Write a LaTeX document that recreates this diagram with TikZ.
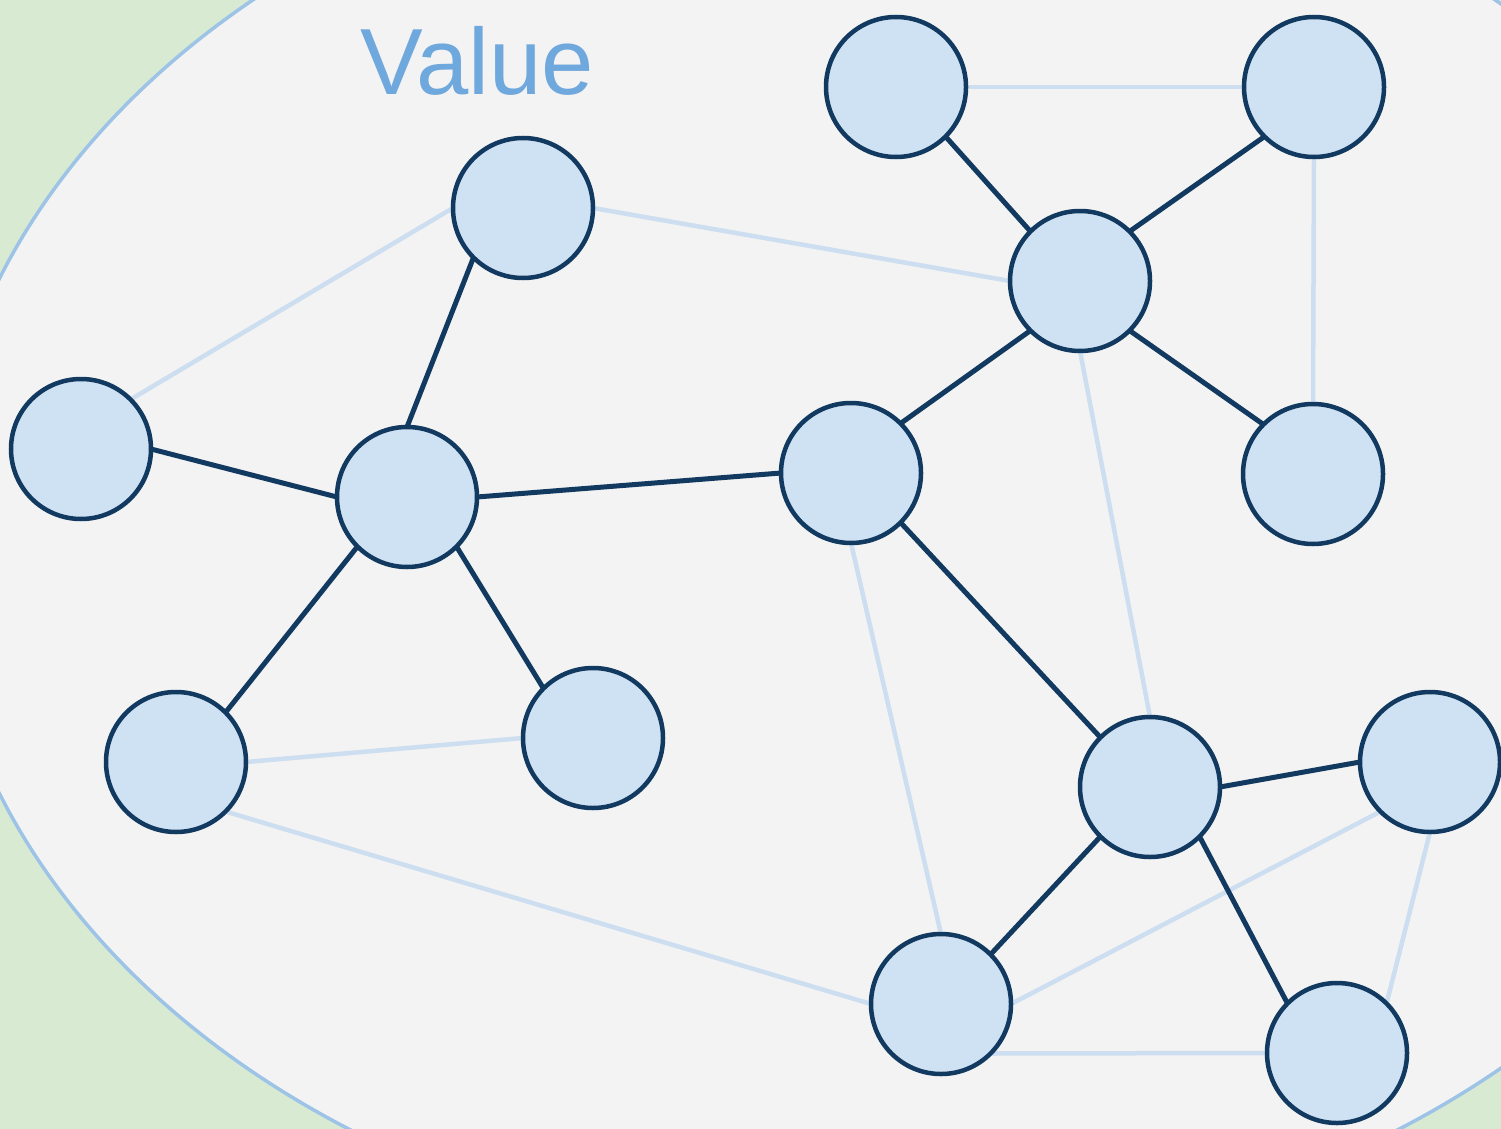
\documentclass[tikz,border=0pt]{standalone}
\usepackage{fontspec}
\setmainfont{Liberation Sans}
\usetikzlibrary{backgrounds}
\definecolor{bggreen}{HTML}{D9EAD3}
\definecolor{ellfill}{HTML}{F3F3F3}
\definecolor{ellline}{HTML}{9DC3E6}
\definecolor{vfill}{HTML}{CFE2F3}
\definecolor{vline}{HTML}{123A60}
\definecolor{lightedge}{HTML}{CCDEF0}
\definecolor{valcol}{HTML}{6FA8DC}
\begin{document}
\begin{tikzpicture}[x=1pt,y=-1pt,
  vtx/.style={circle,minimum size=140pt,inner sep=0pt,outer sep=0pt,fill=vfill,draw=vline,line width=4.5pt},
  darkedge/.style={draw=vline,line width=5pt},
  softedge/.style={draw=lightedge,line width=4.5pt},
  valtext/.style={text=valcol,font=\fontsize{94}{100}\selectfont,inner sep=0pt}]
\useasboundingbox (0,0) rectangle (1501,1129);
\node[valtext,anchor=base] (val) at (477,95) {Value};
\node[vtx] (n1) at (523,208) {};
\node[vtx] (n2) at (81,449) {};
\node[vtx] (n3) at (407,497) {};
\node[vtx] (n4) at (176,762) {};
\node[vtx] (n5) at (593,738) {};
\node[vtx] (n6) at (896,87) {};
\node[vtx] (n7) at (1314,87) {};
\node[vtx] (n8) at (1080,281) {};
\node[vtx] (n9) at (851,473) {};
\node[vtx] (n10) at (1313,474) {};
\node[vtx] (n11) at (1150,787) {};
\node[vtx] (n12) at (1430,762) {};
\node[vtx] (n13) at (941,1004) {};
\node[vtx] (n14) at (1337,1053) {};
\begin{scope}[on background layer]
  \fill[bggreen] (0,0) rectangle (1501,1129);
  \begin{scope}
    \clip (0,0) rectangle (1501,1129);
    \draw[draw=ellline,line width=3.5pt,fill=ellfill] (874,536) ellipse [x radius=937, y radius=716];
  \end{scope}
  % light edges
  \draw[softedge] (n2.north east) -- (n1.west);
  \draw[softedge] (n1.east) -- (n8.west);
  \draw[softedge] (n4.east) -- (n5.west);
  \draw[softedge] (n4.south east) -- (n13.west);
  \draw[softedge] (n6.east) -- (n7.west);
  \draw[softedge] (n7.south) -- (n10.north);
  \draw[softedge] (n8.south) -- (n11.north);
  \draw[softedge] (n9.south) -- (n13.north);
  \draw[softedge] (n12.south west) -- (n13.east);
  \draw[softedge] (n12.south) -- (n14.north east);
  \draw[softedge] (n13.south east) -- (n14.west);
  % dark edges
  \draw[darkedge] (n3.north) -- (n1.south west);
  \draw[darkedge] (n2.east) -- (n3.west);
  \draw[darkedge] (n3.south west) -- (n4.north east);
  \draw[darkedge] (n3.south east) -- (n5.north west);
  \draw[darkedge] (n3.east) -- (n9.west);
  \draw[darkedge] (n6.south east) -- (n8.north west);
  \draw[darkedge] (n8.north east) -- (n7.south west);
  \draw[darkedge] (n8.south west) -- (n9.north east);
  \draw[darkedge] (n8.south east) -- (n10.north west);
  \draw[darkedge] (n9.south east) -- (n11.north west);
  \draw[darkedge] (n11.east) -- (n12.west);
  \draw[darkedge] (n11.south west) -- (n13.north east);
  \draw[darkedge] (n11.south east) -- (n14.north west);
\end{scope}
\end{tikzpicture}
\end{document}
